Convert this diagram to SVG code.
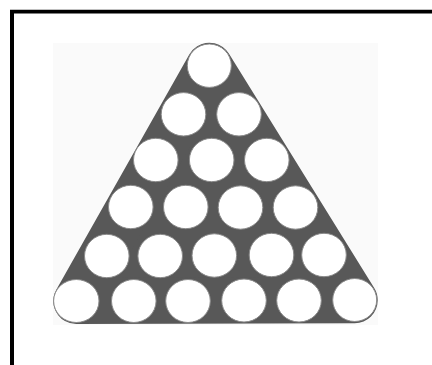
<svg xmlns="http://www.w3.org/2000/svg" width="432" height="365" viewBox="0 0 432 365">
  <style>
    .frame { fill: none; stroke: #000; stroke-linecap: butt; }
    .hull { fill: #585858; stroke: #585858; stroke-width: 46; stroke-linejoin: round; }
    .hole { fill: #ffffff; stroke: #8a8a8a; stroke-width: 1; }
  </style>
  <rect width="432" height="365" fill="#ffffff"/>
  <rect x="53" y="43" width="325" height="282" fill="#fafafa"/>
  <g id="frame">
    <line class="frame" x1="10" y1="11.6" x2="432" y2="11.6" stroke-width="3.6"/>
    <line class="frame" x1="12" y1="10" x2="12" y2="365" stroke-width="4"/>
  </g>
  <g id="triangle">
    <polygon class="hull" points="209.3,65.7 76.3,301 354.7,300.2"/>
  </g>
  <g id="holes">
    <g id="row1">
      <ellipse class="hole" cx="209.3" cy="65.7" rx="22" ry="21.7"/>
    </g>
    <g id="row2">
      <ellipse class="hole" cx="183.5" cy="114.3" rx="22.3" ry="21.7"/>
      <ellipse class="hole" cx="239" cy="114.3" rx="22.3" ry="21.7"/>
    </g>
    <g id="row3">
      <ellipse class="hole" cx="155.8" cy="160" rx="22.3" ry="21.7"/>
      <ellipse class="hole" cx="211.7" cy="160" rx="22.3" ry="21.7"/>
      <ellipse class="hole" cx="266.8" cy="160" rx="22.3" ry="21.7"/>
    </g>
    <g id="row4">
      <ellipse class="hole" cx="130.8" cy="207" rx="22.3" ry="21.7"/>
      <ellipse class="hole" cx="185.8" cy="207" rx="22.3" ry="21.7"/>
      <ellipse class="hole" cx="240.5" cy="207.5" rx="22.3" ry="21.7"/>
      <ellipse class="hole" cx="295.5" cy="207.5" rx="22.3" ry="21.7"/>
    </g>
    <g id="row5">
      <ellipse class="hole" cx="106.8" cy="256" rx="22.3" ry="21.7"/>
      <ellipse class="hole" cx="160.2" cy="256" rx="22.3" ry="21.7"/>
      <ellipse class="hole" cx="214.3" cy="255.5" rx="22.3" ry="21.7"/>
      <ellipse class="hole" cx="271.5" cy="255" rx="22.3" ry="21.7"/>
      <ellipse class="hole" cx="324" cy="255" rx="22.3" ry="21.7"/>
    </g>
    <g id="row6">
      <ellipse class="hole" cx="76.3" cy="301" rx="22.7" ry="21.5"/>
      <ellipse class="hole" cx="133.8" cy="301" rx="22.3" ry="21.5"/>
      <ellipse class="hole" cx="188" cy="301" rx="22.3" ry="21.5"/>
      <ellipse class="hole" cx="244" cy="300.5" rx="22.3" ry="21.5"/>
      <ellipse class="hole" cx="299" cy="300.5" rx="22.3" ry="21.5"/>
      <ellipse class="hole" cx="354.7" cy="300" rx="22" ry="21.5"/>
    </g>
  </g>
</svg>
